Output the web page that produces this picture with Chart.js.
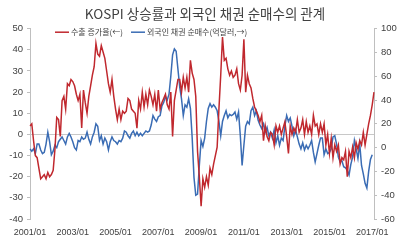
<!DOCTYPE html>
<html>
<head>
<meta charset="utf-8">
<script src="https://cdn.jsdelivr.net/npm/chart.js@4.4.0/dist/chart.umd.min.js"></script>
<style>
  html, body { margin: 0; padding: 0; background: #fff; }
  #wrap { width: 410px; height: 242px; }
</style>
</head>
<body>
<div id="wrap"><canvas id="chart" width="410" height="242"></canvas></div>
<script>
// monthly series, 2001/01 .. 2017/02
const START_YEAR = 2001;
const tickLabels = ["2001/01", "2003/01", "2005/01", "2007/01", "2009/01", "2011/01", "2013/01", "2015/01", "2017/01"];

// 수출 증가율 (%), left axis
const exportGrowth = [
  4, 5, -3, -10, -11, -16, -21, -20, -19, -21, -18, -20,
  -19, -17, -7, 8, 7, -1, 16, 18, 12, 24, 23, 26,
  25, 23, 19, 16, 19, 3, 21, 15, 10, 18, 23, 28,
  32, 43, 38, 37, 42, 39, 36, 30, 24, 20, 26, 18,
  12, 7, 12, 7, 11, 10, 11, 17, 16, 12, 11, 10,
  3, 16, 12, 20, 13, 19, 14, 21, 18, 14, 19, 11,
  21, 12, 15, 17, 19, 14, 12, 20, -1, 16, 21, 26,
  26, 20, 27, 22, 27, 20, 35, 29, 26, 18, -8, -20,
  -34, -21, -25, -20, -24, -16, -19, -14, -10, -6, 12, 28,
  46, 35, 36, 31, 28, 30, 27, 28, 31, 24, 21, 28,
  45, 20, 28, 24, 22, 17, 13, 11, 9, 6, 9, -3,
  4, -1, -3, 1, 0, -5, 4, 1, 4, 0, 3, 6,
  -1, -9, 4, 0, 3, 1, 7, 1, 3, 7, 0, 6,
  1, 4, 0, 9, 4, 5, 0, 5, 1, 5, -5, 0,
  -9, -2, -11, -5, -8, -5, -14, -11, -12, -8, -20, -8,
  -11, -6, -11, -4, -7, -3, -5, 1, -5, 0, 5, 9,
  14, 20
];

// 외국인 채권 순매수 (억달러), right axis
const foreignBonds = [
  -1, -3, -1, -5, 3, 3, -2, -5, -4, 3, 13, 5,
  -6, -3, 2, 0, 5, 7, 9, 6, 3, 9, 12, 9,
  5, 0, -2, 6, 5, 9, 7, 8, 13, 7, 3, 9,
  13, 20, 18, 6, 10, 3, 8, 5, -2, 5, 9, 6,
  5, 3, 6, 5, 8, 14, 13, 10, 8, 12, 14, 10,
  13, 10, 12, 10, 12, 14, 13, 14, 19, 27, 24, 22,
  26, 27, 35, 38, 43, 40, 45, 60, 78, 83, 81, 66,
  51, 41, 27, 36, 34, 41, 33, 8, -25, -40, -39, -15,
  6, 1, 8, 22, 33, 37, 34, 36, 34, 31, 22, 10,
  22, 27, 31, 25, 28, 27, 28, 30, 24, 30, 10, -15,
  2, 18, 22, 20, 31, 34, 27, 31, 23, 19, 16, 20,
  13, 17, 10, 13, 8, 15, 4, 10, 2, 8, 6, 18,
  27, 22, 25, 18, 10, 15, 9, 3, -1, 4, -2, 2,
  -1, 2, 6, -4, -12, -5, 2, 8, 8, -6, -1, -5,
  -4, -1, 9, 10, 3, -8, -12, -11, -16, -17, -19, -23,
  -14, -8, 6, -1, -9, 3, -15, -22, -30, -34, -20, -10,
  -6
];

const months = exportGrowth.map((_, i) => {
  const y = START_YEAR + Math.floor(i / 12);
  const m = (i % 12) + 1;
  return y + "/" + (m < 10 ? "0" + m : m);
});

const COLORS = {
  red: "#C0282E",
  blue: "#3A6CB4",
  axis: "#BFBFBF",
  zero: "#C8C8C8",
  text: "#404040",
};

const FONT = "'Liberation Sans', Arial, 'Noto Sans CJK KR', sans-serif";
const KFONT = "'Noto Sans CJK KR', 'Liberation Sans', sans-serif";

// legend sits inside the plot area, top-left, like the Excel original
const insideLegend = {
  id: "insideLegend",
  afterDraw(chart) {
    const ctx = chart.ctx;
    const area = chart.chartArea;
    const y = area.top + 3.5;
    let x = area.left + 25;
    ctx.save();
    ctx.font = "8px " + KFONT;
    ctx.textBaseline = "middle";
    chart.data.datasets.forEach((ds) => {
      ctx.strokeStyle = ds.borderColor;
      ctx.lineWidth = 1.5;
      ctx.beginPath();
      ctx.moveTo(x, y);
      ctx.lineTo(x + 14, y);
      ctx.stroke();
      ctx.fillStyle = COLORS.text;
      ctx.fillText(ds.label, x + 16, y);
      x += 16 + ctx.measureText(ds.label).width + 8;
    });
    ctx.restore();
  },
};

new Chart(document.getElementById("chart"), {
  type: "line",
  data: {
    labels: months,
    datasets: [
      {
        label: "수출 증가율(←)",
        data: exportGrowth,
        borderColor: COLORS.red,
        backgroundColor: COLORS.red,
        borderWidth: 1.5,
        pointRadius: 0,
        yAxisID: "y",
      },
      {
        label: "외국인 채권 순매수(억달러,→)",
        data: foreignBonds,
        borderColor: COLORS.blue,
        backgroundColor: COLORS.blue,
        borderWidth: 1.5,
        pointRadius: 0,
        yAxisID: "y1",
      },
    ],
  },
  options: {
    responsive: false,
    animation: false,
    layout: { padding: 0 },
    scales: {
      x: {
        offset: false,
        border: { display: false },
        grid: { display: false },
        ticks: {
          autoSkip: false,
          maxRotation: 0,
          padding: 0,
          color: COLORS.text,
          font: { family: FONT, size: 9 },
          callback: (v, i) => (tickLabels.includes(months[i]) ? months[i] : ""),
        },
        afterFit: (s) => { s.height = 23; },
      },
      y: {
        position: "left",
        min: -40,
        max: 50,
        border: { color: COLORS.axis },
        grid: {
          color: (ctx) => (ctx.tick && ctx.tick.value === 0 ? COLORS.zero : "rgba(0,0,0,0)"),
          tickColor: COLORS.axis,
          tickLength: 3,
        },
        ticks: {
          stepSize: 10,
          padding: 4,
          color: COLORS.text,
          font: { family: FONT, size: 9.5 },
        },
        afterFit: (s) => { s.width = 30; },
      },
      y1: {
        position: "right",
        min: -60,
        max: 100,
        border: { color: COLORS.axis },
        grid: { drawOnChartArea: false, tickColor: COLORS.axis, tickLength: 3 },
        ticks: {
          stepSize: 20,
          padding: 4,
          color: COLORS.text,
          font: { family: FONT, size: 9.5 },
        },
        afterFit: (s) => { s.width = 36; },
      },
    },
    plugins: {
      title: {
        display: true,
        text: "KOSPI 상승률과 외국인 채권 순매수의 관계",
        color: COLORS.text,
        font: { family: KFONT, size: 13.5, weight: "normal" },
        padding: { top: 5.5, bottom: 7 },
      },
      legend: { display: false },
      tooltip: { enabled: false },
    },
  },
  plugins: [insideLegend],
});
</script>
</body>
</html>
